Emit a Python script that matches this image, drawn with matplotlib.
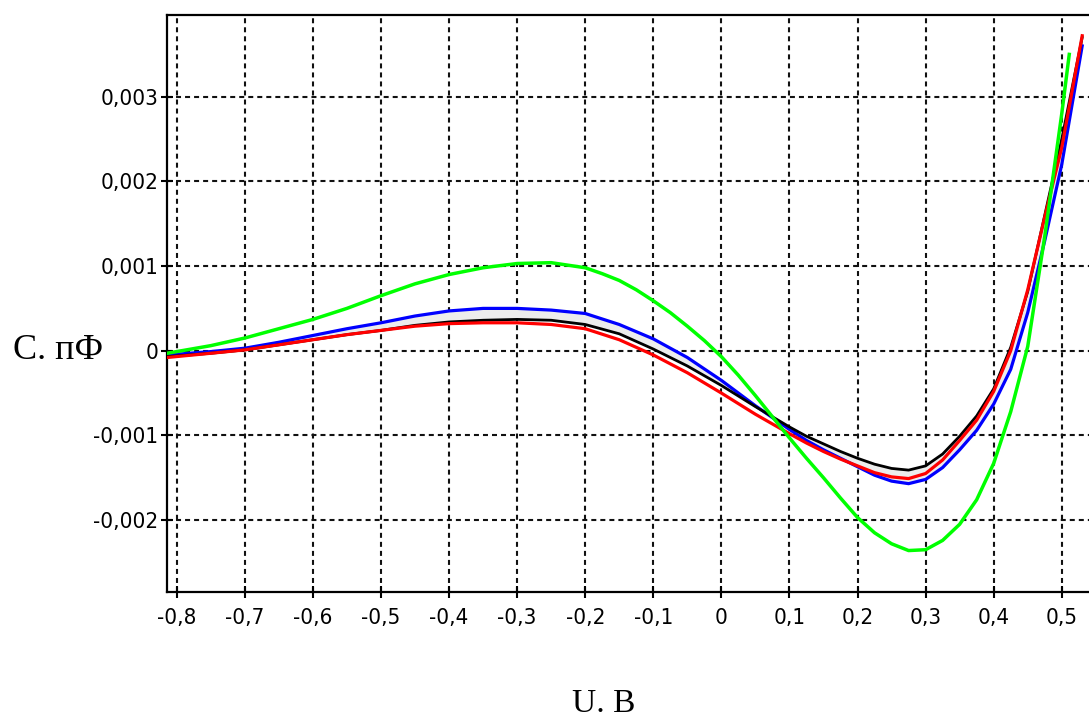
import numpy as np
import matplotlib
matplotlib.use("Agg")
import matplotlib.pyplot as plt
from matplotlib import font_manager

# U, B
u = [-0.8142, -0.75, -0.7, -0.65, -0.6, -0.55, -0.5, -0.45, -0.4, -0.35, -0.3,
     -0.25, -0.2, -0.15, -0.1, -0.05, 0.0, 0.05,
     0.1, 0.125, 0.15, 0.175, 0.2, 0.225, 0.25, 0.275, 0.3, 0.325, 0.35, 0.375,
     0.4, 0.425, 0.45, 0.475, 0.5, 0.53]

# C, pF
c_black = [-0.00007, -0.00003, 0.00001, 0.00007, 0.00013, 0.00019, 0.00024, 0.0003,
           0.00034, 0.00036, 0.00037, 0.00036, 0.00031, 0.0002, 0.00002, -0.00018,
           -0.00041, -0.00066,
           -0.0009, -0.00101, -0.0011, -0.00119, -0.00127, -0.00134, -0.00139,
           -0.00141, -0.00136, -0.00122, -0.00101, -0.00077, -0.00045, 0.00004,
           0.0007, 0.0016, 0.0025, 0.0037]
c_red = [-0.00008, -0.00003, 0.00001, 0.00007, 0.00013, 0.00019, 0.00024, 0.00029,
         0.00032, 0.00033, 0.00033, 0.00031, 0.00026, 0.00013, -0.00005, -0.00026,
         -0.0005, -0.00075,
         -0.00098, -0.00109, -0.00119, -0.00128, -0.00136, -0.00144, -0.00149,
         -0.00151, -0.00145, -0.00129, -0.00106, -0.00082, -0.00048, 0.0,
         0.00072, 0.00158, 0.0024, 0.00372]
c_blue = [-0.00005, -0.00001, 0.00003, 0.0001, 0.00018, 0.00026, 0.00033, 0.00041,
          0.00047, 0.0005, 0.0005, 0.00048, 0.00044, 0.00031, 0.00014, -0.00008,
          -0.00035, -0.00065,
          -0.00093, -0.00106, -0.00117, -0.00127, -0.00137, -0.00147, -0.00154,
          -0.00157, -0.00152, -0.00138, -0.00117, -0.00094, -0.00063, -0.00022,
          0.00045, 0.0013, 0.0022, 0.0036]

u_green = [-0.8142, -0.75, -0.7, -0.65, -0.6, -0.55, -0.5, -0.45, -0.4, -0.35, -0.3,
           -0.25, -0.2, -0.175, -0.15, -0.125, -0.1, -0.075, -0.05, -0.025,
           0.0, 0.025, 0.05, 0.075, 0.1, 0.125, 0.15, 0.175,
           0.2, 0.225, 0.25, 0.275, 0.3, 0.325, 0.35, 0.375,
           0.4, 0.425, 0.45, 0.475, 0.5, 0.511]
c_green = [-0.00003, 0.00006, 0.00015, 0.00026, 0.00037, 0.0005, 0.00065, 0.00079,
           0.0009, 0.00098, 0.00103, 0.00104,
           0.00098, 0.00091, 0.00083, 0.00072, 0.00059, 0.00045, 0.00029, 0.00012,
           -0.00007, -0.00029, -0.00053, -0.00078, -0.00103, -0.00127, -0.0015, -0.00174,
           -0.00197, -0.00215, -0.00228, -0.00236, -0.00235, -0.00224, -0.00205, -0.00176,
           -0.00133, -0.00072, 0.00005, 0.00135, 0.0028, 0.0035]

xticks = [-0.8, -0.7, -0.6, -0.5, -0.4, -0.3, -0.2, -0.1, 0, 0.1, 0.2, 0.3, 0.4, 0.5]
yticks = [-0.002, -0.001, 0, 0.001, 0.002, 0.003]

# narrow font for tick labels if there is one
narrow = None
for f in font_manager.fontManager.ttflist:
    if f.style != 'normal' or f.weight not in (400, 'normal', 'regular'):
        continue
    if 'Narrow' in f.name or 'Condensed' in f.name or f.stretch in ('condensed', 'semi-condensed'):
        if narrow is None or 'Liberation Sans Narrow' in f.name:
            narrow = f
if narrow is not None:
    tick_prop = font_manager.FontProperties(fname=narrow.fname, size=16)
else:
    tick_prop = font_manager.FontProperties(family=['Liberation Sans', 'DejaVu Sans'], size=14)

label_font = ['Liberation Serif', 'DejaVu Serif']

plt.rcParams['lines.scale_dashes'] = False

fig = plt.figure(figsize=(10.89, 7.22), dpi=100)
ax = fig.add_axes([0.1534, 0.18, 0.8466, 0.7992])

ax.fill_between(u, c_black, c_blue, color='#ececec', lw=0, zorder=1)
ax.plot(u, c_blue, color='#0000ff', lw=2.3, zorder=3)
ax.plot(u, c_black, color='black', lw=2.0, zorder=3)
ax.plot(u, c_red, color='#ff0000', lw=2.3, zorder=3)
ax.plot(u_green, c_green, color='#00ff00', lw=2.5, zorder=4)

ax.set_xlim(-0.8142, 0.540)
ax.set_ylim(-0.00285, 0.003965)

ax.set_xticks(xticks)
ax.set_yticks(yticks)

def fmt(v):
    if abs(v) < 1e-12:
        return '0'
    s = ('%.1f' % v) if abs(v) >= 0.05 else ('%.3f' % v)
    return s.replace('.', ',')

ax.set_xticklabels([fmt(v) for v in xticks], fontproperties=tick_prop)
ax.set_yticklabels([fmt(v) for v in yticks], fontproperties=tick_prop)

ax.tick_params(axis='both', direction='inout', length=9, width=1.5, color='black')
ax.tick_params(axis='x', pad=7)
ax.tick_params(axis='y', pad=2)

ax.grid(True, color='#111111', lw=1.5, linestyle=(0, (3.6, 2.9)), zorder=0)
ax.set_axisbelow(True)

for side in ['left', 'top', 'bottom']:
    ax.spines[side].set_linewidth(1.6)
    ax.spines[side].set_color('black')
ax.spines['right'].set_visible(False)

fig.text(13 / 1089, 1 - 359 / 722, 'C. пФ', family=label_font, fontsize=26,
         ha='left', va='baseline')
fig.text(604 / 1089, 1 - 712 / 722, 'U. B', family=label_font, fontsize=24,
         ha='center', va='baseline')

fig.savefig('out.png', dpi=100)
